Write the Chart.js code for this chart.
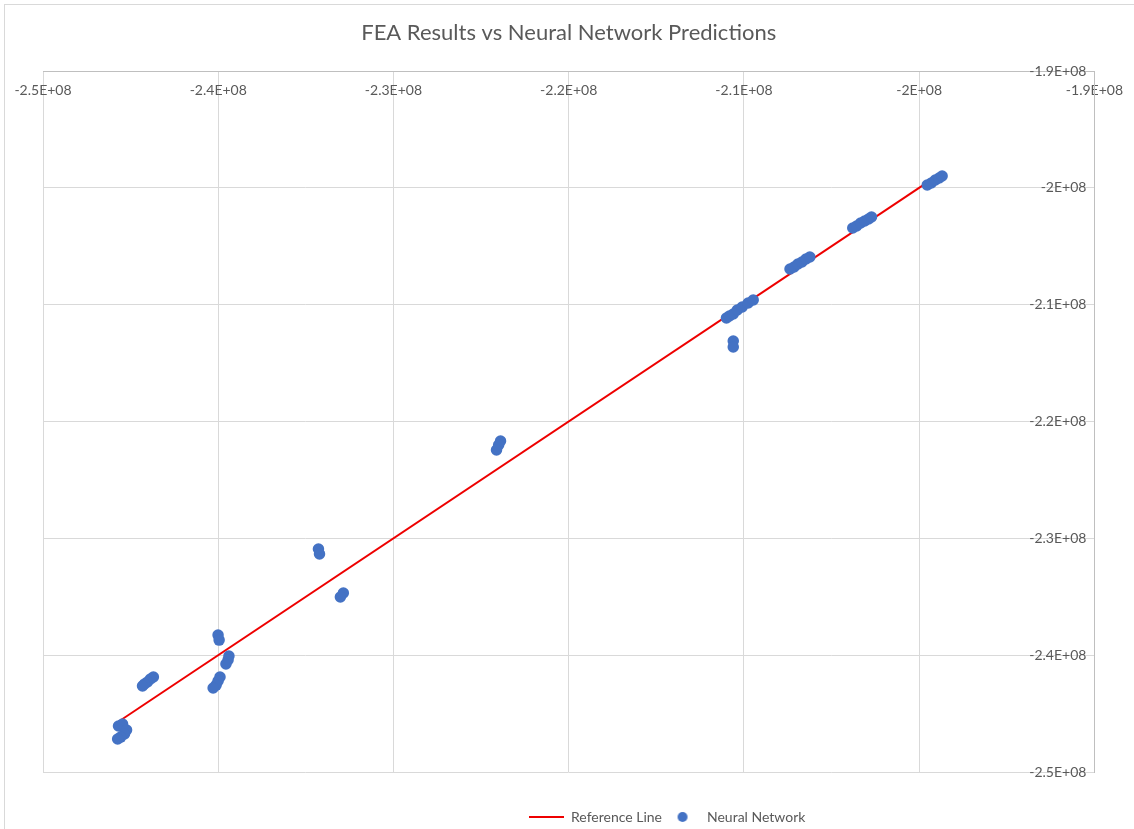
<!DOCTYPE html>
<html>
<head>
<meta charset="utf-8">
<script src="https://cdn.jsdelivr.net/npm/chart.js@4.4.1/dist/chart.umd.min.js"></script>
<style>
html,body{margin:0;padding:0;background:#fff;}
#wrap{position:relative;width:1134px;height:829px;overflow:hidden;background:#fff;}
#c{position:absolute;left:0;top:0;}
#frame{position:absolute;left:4px;top:4px;width:1200px;height:900px;border:1px solid #D9D9D9;pointer-events:none;}
</style>
</head>
<body>
<div id="wrap"><canvas id="c" width="1134" height="829"></canvas><div id="frame"></div></div>
<script>
// ---- data ----
const xTickLabels = ['-2.5E+08', '-2.4E+08', '-2.3E+08', '-2.2E+08', '-2.1E+08', '-2E+08', '-1.9E+08'];
const yTickLabels = ['-2.5E+08', '-2.4E+08', '-2.3E+08', '-2.2E+08', '-2.1E+08', '-2E+08', '-1.9E+08'];

// FEA results (x) and neural network predictions (y)
const feaValues = [
  -245690000, -245460000, -245230000, -245350000, -245570000, -245740000,
  -243700000, -243870000, -244040000, -244210000, -244320000,
  -239900000, -240010000, -240120000, -240290000,
  -239390000, -239440000, -239560000,
  -240010000, -239950000,
  -234280000, -234220000,
  -232860000, -233030000,
  -223890000, -224000000, -224120000,
  -211000000, -210830000, -210610000, -210380000, -210100000, -209760000, -209470000,
  -210610000, -210610000,
  -207370000, -207140000, -206920000, -206690000, -206460000, -206240000,
  -203790000, -203570000, -203340000, -203110000, -202890000, -202720000,
  -199540000, -199310000, -199080000, -198860000, -198690000
];
const nnValues = [
  -246060000, -245890000, -246410000, -246750000, -247010000, -247180000,
  -241870000, -242040000, -242300000, -242470000, -242640000,
  -241870000, -242210000, -242560000, -242810000,
  -240070000, -240410000, -240760000,
  -238280000, -238710000,
  -230910000, -231340000,
  -234680000, -235020000,
  -221670000, -222010000, -222440000,
  -211140000, -210970000, -210800000, -210460000, -210200000, -209860000, -209600000,
  -213110000, -213620000,
  -206950000, -206780000, -206520000, -206350000, -206090000, -205920000,
  -203440000, -203270000, -203010000, -202840000, -202670000, -202500000,
  -199760000, -199590000, -199330000, -199160000, -198990000
];
const refLineX = [-245700000, -198700000];
const refLineY = [-245700000, -198700000];

const axisMin = -250000000;
const axisMax = -190000000;
const axisStep = 10000000;

// ---- style ----
const FONT = 'Lato, "Open Sans", "Liberation Sans", sans-serif';
const TEXT = '#595959';
const RED = '#EE0000';
const BLUE = '#4472C4';
const GRID = '#D9D9D9';
const AXIS = '#BFBFBF';

function makeLineIcon() {
  const c = document.createElement('canvas');
  c.width = 35; c.height = 4;
  const g = c.getContext('2d');
  g.fillStyle = RED;
  g.fillRect(0, 1, 35, 2);
  return c;
}
function makeDotIcon() {
  const c = document.createElement('canvas');
  c.width = 12; c.height = 12;
  const g = c.getContext('2d');
  g.fillStyle = BLUE;
  g.beginPath(); g.arc(6, 6, 5, 0, Math.PI * 2); g.fill();
  return c;
}
const legendIcons = [makeLineIcon(), makeDotIcon()];

const legendShift = {
  id: 'legendShift',
  afterLayout(chart) {
    const lg = chart.legend;
    if (!lg) return;
    const target = 529;
    const d = target - (lg.left + lg.options.labels.padding);
    lg.left += d;
    lg.right += d;
  }
};

const refPoints = refLineX.map((x, i) => ({ x: x, y: refLineY[i] }));
const nnPoints = feaValues.map((x, i) => ({ x: x, y: nnValues[i] }));

new Chart(document.getElementById('c'), {
  type: 'scatter',
  data: {
    datasets: [
      {
        label: 'Reference Line',
        data: refPoints,
        showLine: true,
        borderColor: RED,
        backgroundColor: RED,
        borderWidth: 2,
        pointRadius: 0,
        order: 2
      },
      {
        label: 'Neural Network',
        data: nnPoints,
        backgroundColor: BLUE,
        borderColor: BLUE,
        borderWidth: 0,
        pointRadius: 5.75,
        pointHoverRadius: 5.75,
        order: 1
      }
    ]
  },
  options: {
    responsive: false,
    animation: false,
    events: [],
    layout: { padding: { left: 43, right: 0, top: 0, bottom: -5 } },
    scales: {
      x: {
        type: 'linear',
        position: 'top',
        min: axisMin, max: axisMax,
        ticks: {
          stepSize: axisStep, mirror: true, padding: 11, color: TEXT,
          font: { family: FONT, size: 14 }, maxRotation: 0, autoSkip: false,
          callback: (v, i) => xTickLabels[i]
        },
        grid: { color: GRID, lineWidth: 1, drawTicks: false },
        border: { display: true, color: AXIS, width: 1 },
        afterFit(s) { s.height = 25.1; }
      },
      y: {
        type: 'linear',
        position: 'right',
        min: axisMin, max: axisMax,
        ticks: {
          stepSize: axisStep, mirror: true, padding: -8, color: TEXT,
          font: { family: FONT, size: 14 }, autoSkip: false,
          callback: (v, i) => yTickLabels[i]
        },
        grid: { color: GRID, lineWidth: 1, drawTicks: false },
        border: { display: true, color: AXIS, width: 1 },
        afterFit(s) { s.width = 34; }
      }
    },
    plugins: {
      tooltip: { enabled: false },
      title: {
        display: true,
        text: 'FEA Results vs Neural Network Predictions',
        color: TEXT,
        font: { family: FONT, size: 22, weight: 'normal' },
        padding: { top: 19.5, bottom: 0 },
        fullSize: false
      },
      legend: {
        position: 'bottom',
        align: 'start',
        fullSize: false,
        title: { display: true, text: '', font: { size: 10, lineHeight: 1 }, padding: { top: 25, bottom: 0 } },
        labels: {
          usePointStyle: true,
          pointStyleWidth: 35,
          boxHeight: 14,
          padding: 3,
          color: TEXT,
          font: { family: FONT, size: 14 },
          generateLabels: (chart) => chart.data.datasets.map((ds, i) => ({
            text: ds.label,
            pointStyle: legendIcons[i],
            fillStyle: ds.backgroundColor,
            strokeStyle: ds.borderColor,
            lineWidth: 0,
            fontColor: TEXT,
            hidden: false,
            datasetIndex: i
          }))
        }
      }
    }
  },
  plugins: [legendShift]
});
</script>
</body>
</html>
